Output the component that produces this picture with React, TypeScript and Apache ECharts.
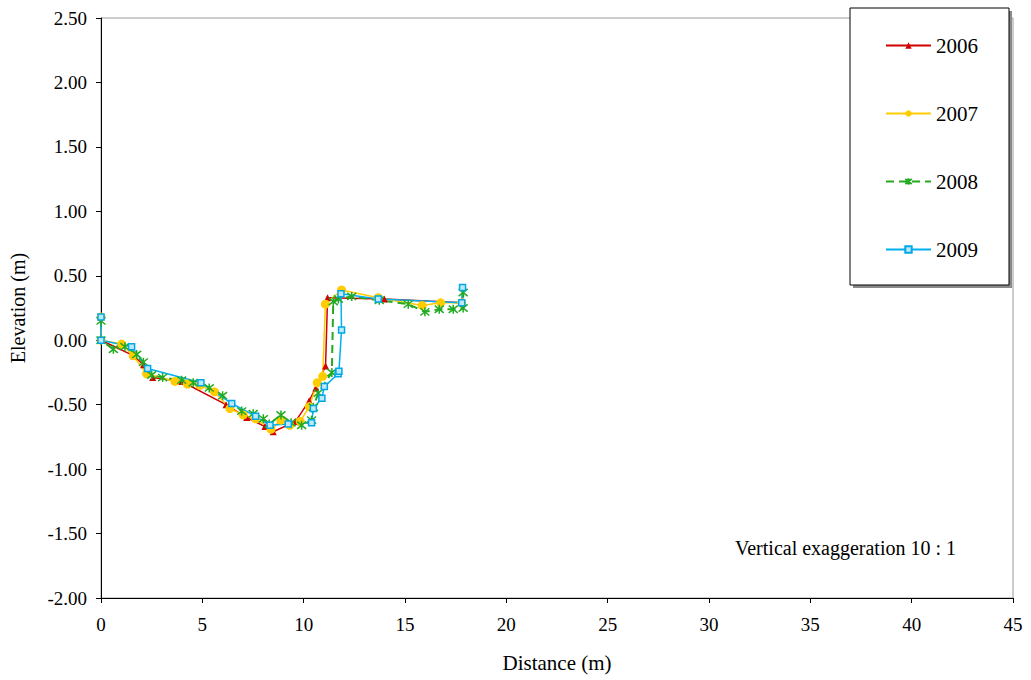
import React, { useEffect, useRef } from "react";
import * as echarts from "echarts";

const years = ["2006", "2007", "2008", "2009"];

const s2006: [number, number][] = [
  [0, 0.18], [0, 0], [1.6, -0.12], [2.1, -0.19], [2.55, -0.29], [3.98, -0.32], [6.17, -0.5],
  [7.19, -0.6], [8.09, -0.67], [8.5, -0.71], [9.6, -0.63], [10.27, -0.47], [10.6, -0.37],
  [11.08, -0.2], [11.18, 0.33], [13.98, 0.32], [17.84, 0.29], [17.84, 0.41],
];

const s2007: [number, number][] = [
  [0, 0.18], [0, 0], [1.02, -0.03], [1.59, -0.12], [2.25, -0.26], [3.65, -0.32], [4.26, -0.34],
  [4.88, -0.35], [5.6, -0.4], [6.36, -0.53], [7.02, -0.58], [7.63, -0.61], [8.39, -0.69],
  [8.88, -0.62], [9.32, -0.66], [9.83, -0.63], [10.28, -0.515], [10.67, -0.33], [10.94, -0.28],
  [11.07, 0.28], [11.87, 0.39], [13.68, 0.33], [15.85, 0.27], [16.76, 0.29], [17.8, 0.29],
];

const s2008: [number, number][] = [
  [0, 0.15], [0, 0], [0.61, -0.07], [1.18, -0.05], [1.76, -0.11], [2.09, -0.17], [2.5, -0.27],
  [3.04, -0.29], [3.98, -0.31], [4.55, -0.33], [5.34, -0.37], [6.0, -0.43], [6.94, -0.55],
  [7.51, -0.57], [8.01, -0.61], [8.3, -0.65], [8.88, -0.58], [9.38, -0.64], [9.9, -0.66],
  [10.39, -0.62], [10.48, -0.52], [10.72, -0.41], [11.39, -0.25], [11.46, 0.3], [11.71, 0.32],
  [12.37, 0.34], [13.73, 0.31], [15.16, 0.28], [15.98, 0.22], [16.69, 0.24], [17.38, 0.24],
  [17.87, 0.25], [17.87, 0.37],
];

const s2009: [number, number][] = [
  [0, 0.18], [0, 0], [1.51, -0.05], [2.3, -0.22], [4.93, -0.33], [6.45, -0.49], [7.63, -0.59],
  [8.34, -0.66], [9.24, -0.65], [10.39, -0.64], [10.48, -0.53], [10.9, -0.45], [11.02, -0.36],
  [11.7, -0.26], [11.74, -0.24], [11.87, 0.08], [11.84, 0.36], [13.68, 0.32], [17.8, 0.29],
  [17.84, 0.41],
];

const FONT = "'Liberation Serif', 'Times New Roman', serif";

export default function App() {
  const ref = useRef<HTMLDivElement>(null);
  useEffect(() => {
    if (!ref.current) return;
    const chart = echarts.init(ref.current, undefined, { renderer: "svg" });
    const star = "path://M0,0L8,8M8,0L0,8M4,-1L4,9";
    chart.setOption({
      animation: false,
      backgroundColor: "#fff",
      textStyle: { fontFamily: FONT },
      grid: {
        left: 101, right: 18, top: 18, bottom: 82,
        outerBoundsMode: "none", containLabel: false,
        show: true, borderColor: "#9a9a9a", borderWidth: 1, backgroundColor: "transparent",
      },
      xAxis: {
        type: "value", min: 0, max: 45, interval: 5,
        name: "Distance (m)", nameLocation: "middle", nameGap: 54,
        nameTextStyle: { fontFamily: FONT, fontSize: 21, color: "#000" },
        axisLine: { show: true, onZero: false, lineStyle: { color: "#000", width: 1 } },
        axisTick: { show: true, inside: false, length: 5, lineStyle: { color: "#000" } },
        axisLabel: { fontFamily: FONT, fontSize: 19, color: "#000", margin: 17 },
        splitLine: { show: false },
      },
      yAxis: {
        type: "value", min: -2, max: 2.5, interval: 0.5,
        name: "Elevation (m)", nameLocation: "middle", nameGap: 73,
        nameTextStyle: { fontFamily: FONT, fontSize: 20, color: "#000" },
        axisLine: { show: true, onZero: false, lineStyle: { color: "#000", width: 1 } },
        axisTick: { show: true, inside: false, length: 5, lineStyle: { color: "#000" } },
        axisLabel: {
          fontFamily: FONT, fontSize: 19, color: "#000", margin: 14,
          formatter: (v: number) => v.toFixed(2),
        },
        splitLine: { show: false },
      },
      legend: {
        z: 10,
        orient: "vertical",
        left: 880, top: 30,
        itemWidth: 45, itemHeight: 8, itemGap: 47,
        textStyle: { fontFamily: FONT, fontSize: 21, color: "#000", padding: [0, 0, 0, 0] },
        data: years,
      },
      graphic: [
        { type: "rect", z: 5, shape: { x: 853, y: 11, width: 159, height: 277 }, style: { fill: "#8a8a8a" } },
        { type: "rect", z: 5, shape: { x: 850, y: 8, width: 159, height: 277 }, style: { fill: "#fff", stroke: "#000", lineWidth: 1 } },
        {
          type: "text", z: 5, left: 735, top: 538,
          style: { text: "Vertical exaggeration 10 : 1", font: `20px ${FONT}`, fill: "#000" },
        },
      ],
      series: [
        {
          name: "2006", type: "line", data: s2006, symbol: "triangle", symbolSize: 7,
          lineStyle: { color: "#D00000", width: 1.5 }, itemStyle: { color: "#D00000" },
        },
        {
          name: "2007", type: "line", data: s2007, symbol: "circle", symbolSize: 9,
          lineStyle: { color: "#FFCC00", width: 1.5 }, itemStyle: { color: "#FFCC00" },
        },
        {
          name: "2008", type: "line", data: s2008, symbol: star, symbolSize: 9,
          lineStyle: { color: "#22AA22", width: 2, type: [8, 5] },
          itemStyle: { color: "#22AA22", borderColor: "#22AA22", borderWidth: 1.5 },
        },
        {
          name: "2009", type: "line", data: s2009, symbol: "rect", symbolSize: 6,
          lineStyle: { color: "#00B0F0", width: 1.5 },
          itemStyle: { color: "#BDE8FA", borderColor: "#00A8E8", borderWidth: 1.5 },
        },
      ],
    });
    return () => chart.dispose();
  }, []);
  return <div ref={ref} style={{ width: 1031, height: 680, position: "absolute", left: 0, top: 0 }} />;
}
